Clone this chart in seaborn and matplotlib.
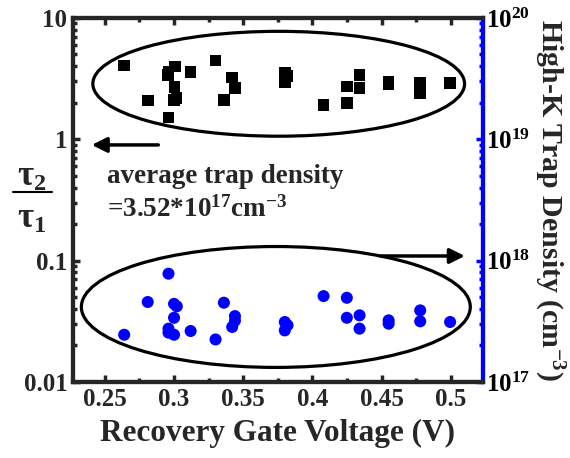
import numpy as np
import pandas as pd
import matplotlib
matplotlib.use("Agg")
import matplotlib.pyplot as plt
import seaborn as sns
from matplotlib.patches import Ellipse
from matplotlib.lines import Line2D
from matplotlib.ticker import FixedLocator, FuncFormatter, LogLocator, NullFormatter

# tau2/tau1 ratio (black squares, left axis)
v_ratio = [0.264, 0.296, 0.3005, 0.2957, 0.312, 0.330, 0.342, 0.344, 0.3003, 0.3017,
           0.2998, 0.281, 0.336, 0.296, 0.380, 0.382, 0.380, 0.408, 0.4248, 0.4248,
           0.434, 0.434, 0.455, 0.455, 0.4778, 0.4778, 0.4994]
ratio = [4.05, 3.6, 3.97, 3.39, 3.57, 4.45, 3.22, 2.65, 2.69, 2.18,
         2.11, 2.08, 2.11, 1.51, 3.5, 3.3, 2.95, 1.92, 2.72, 1.98,
         3.39, 2.63, 3.0, 2.85, 2.9, 2.39, 2.9]

# high-k trap density (blue circles, right axis)
v_dens = [0.296, 0.281, 0.300, 0.302, 0.336, 0.300, 0.344, 0.344, 0.342, 0.296,
          0.296, 0.300, 0.312, 0.330, 0.264, 0.380, 0.380, 0.382, 0.408, 0.4248,
          0.4248, 0.434, 0.434, 0.455, 0.455, 0.4778, 0.4778, 0.4994]
dens = [7.8e17, 4.56e17, 4.4e17, 4.2e17, 4.5e17, 3.38e17, 3.49e17, 3.2e17, 2.84e17, 2.75e17,
        2.55e17, 2.45e17, 2.63e17, 2.24e17, 2.45e17, 3.12e17, 2.66e17, 2.93e17, 5.1e17, 4.94e17,
        3.38e17, 3.54e17, 2.75e17, 3.22e17, 3.02e17, 3.89e17, 3.16e17, 3.12e17]

x_ticks = [0.25, 0.3, 0.35, 0.4, 0.45, 0.5]
left_ticks = [0.01, 0.1, 1, 10]
left_labels = ["0.01", "0.1", "1", "10"]
right_ticks = [1e17, 1e18, 1e19, 1e20]

sns.set_style("ticks")
plt.rcParams["font.family"] = ["Liberation Serif", "DejaVu Serif"]
plt.rcParams["font.weight"] = "bold"
plt.rcParams["mathtext.fontset"] = "custom"
plt.rcParams["mathtext.rm"] = "Liberation Serif:bold"
plt.rcParams["mathtext.it"] = "Liberation Serif:bold"
plt.rcParams["mathtext.bf"] = "Liberation Serif:bold"

fig = plt.figure(figsize=(5.7, 4.58), dpi=100)
ax = fig.add_axes([0.128, 0.166, 0.719, 0.795])
ax2 = ax.twinx()

df1 = pd.DataFrame({"v": v_ratio, "r": ratio})
df2 = pd.DataFrame({"v": v_dens, "d": dens})
sns.scatterplot(data=df1, x="v", y="r", ax=ax, marker="s", s=70, color="black",
                edgecolor="none", zorder=3)
sns.scatterplot(data=df2, x="v", y="d", ax=ax2, marker="o", s=75, color="blue",
                edgecolor="none", zorder=3)

ax.set_xlim(0.227, 0.523)
ax.set_yscale("log")
ax.set_ylim(0.01, 10)
ax2.set_yscale("log")
ax2.set_ylim(1e17, 1e20)

ax.xaxis.set_major_locator(FixedLocator(x_ticks))
ax.set_xticks([0.275, 0.325, 0.375, 0.425, 0.475], minor=True)
ax.xaxis.set_major_formatter(FuncFormatter(lambda val, pos: f"{val:g}"))
ax.yaxis.set_major_locator(FixedLocator(left_ticks))
ax.yaxis.set_major_formatter(FuncFormatter(lambda val, pos: left_labels[left_ticks.index(val)] if val in left_ticks else ""))
ax.yaxis.set_minor_locator(LogLocator(base=10, subs=np.arange(2, 10)))
ax.yaxis.set_minor_formatter(NullFormatter())
ax2.yaxis.set_major_locator(FixedLocator(right_ticks))
ax2.yaxis.set_major_formatter(FuncFormatter(lambda val, pos: r"$\mathbf{10^{%d}}$" % round(np.log10(val))))
ax2.yaxis.set_minor_locator(LogLocator(base=10, subs=np.arange(2, 10)))
ax2.yaxis.set_minor_formatter(NullFormatter())

for a in (ax, ax2):
    for s in a.spines.values():
        s.set_linewidth(3)
    a.tick_params(which="both", direction="in", width=2.5, labelsize=18, pad=4)
    a.tick_params(which="major", length=5)
    a.tick_params(which="minor", length=3)
    a.xaxis.set_tick_params(top=True, which="both")
ax2.spines["right"].set_color("blue")
ax.spines["right"].set_color("blue")
ax2.tick_params(axis="y", which="both", colors="blue", labelcolor="black", labelsize=18, pad=2)
ax.tick_params(axis="y", which="both", right=False)
ax.tick_params(axis="x", which="both", top=True)

for lab in ax.get_xticklabels() + ax.get_yticklabels():
    lab.set_fontweight("bold")

ax.set_xlabel("Recovery Gate Voltage (V)", fontsize=22.5, fontweight="bold", labelpad=6)
ax.set_ylabel("")
ax2.set_ylabel(r"High-K Trap Density (cm$^{-3}$)", fontsize=21.5, fontweight="bold",
               rotation=270, labelpad=26)

# tau2 / tau1 label, drawn as a stacked fraction
fig.text(0.056, 0.612, r"$\tau_2$", fontsize=25, ha="center", va="center")
fig.add_artist(Line2D([0.023, 0.091], [0.581, 0.581], transform=fig.transFigure,
                      color="black", lw=1.5))
fig.text(0.056, 0.522, r"$\tau_1$", fontsize=25, ha="center", va="center")

ax.add_patch(Ellipse((0.502, 0.819), 0.907, 0.288, transform=ax.transAxes,
                     fill=False, lw=2.3, color="black", zorder=2))
ax.add_patch(Ellipse((0.495, 0.206), 0.949, 0.332, transform=ax.transAxes,
                     fill=False, lw=2.3, color="black", zorder=2))

ax.annotate("", xy=(0.039, 0.651), xytext=(0.215, 0.651), xycoords="axes fraction",
            arrowprops=dict(arrowstyle="-|>,head_length=0.9,head_width=0.45", lw=2.5, color="black"))
ax.annotate("", xy=(0.963, 0.346), xytext=(0.744, 0.346), xycoords="axes fraction",
            arrowprops=dict(arrowstyle="-|>,head_length=0.9,head_width=0.45", lw=2.5, color="black"))

ax.text(0.083, 0.563, "average trap density", transform=ax.transAxes, fontsize=19.5,
        fontweight="bold", va="center")
ax.text(0.083, 0.473, r"=3.52*10$^{17}$cm$^{-3}$", transform=ax.transAxes, fontsize=19.5,
        fontweight="bold", va="center")

fig.savefig("out.png", dpi=100)
